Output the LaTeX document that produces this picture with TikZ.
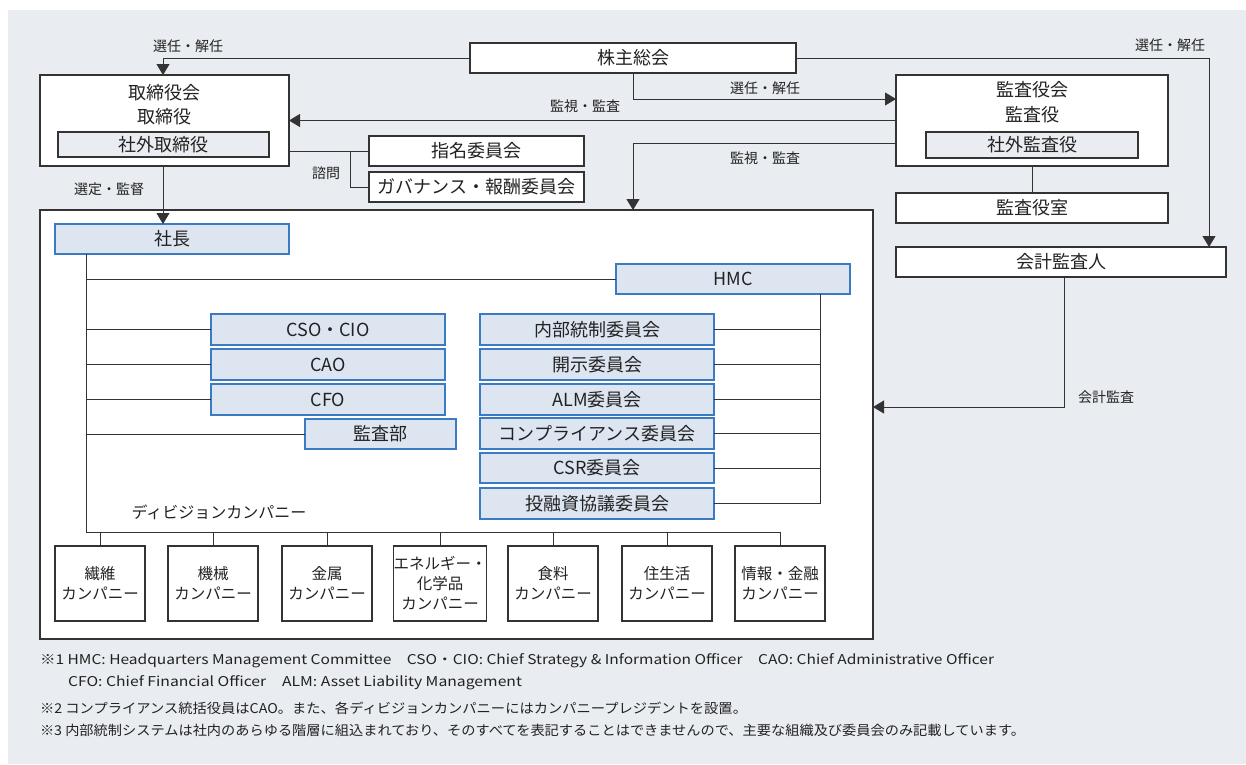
\documentclass[tikz,border=0pt]{standalone}
\usepackage{fontspec}
\usepackage{graphicx}
\setmainfont{Noto Sans CJK JP}
\usetikzlibrary{arrows.meta}
\definecolor{bgc}{HTML}{E9ECF0}
\definecolor{bluefill}{HTML}{DDE5F1}
\definecolor{blueline}{HTML}{3B7BC4}
\definecolor{ln}{HTML}{333333}
\definecolor{txt}{HTML}{222222}
\tikzset{
  base/.style={inner sep=0pt, outer sep=0pt, text=txt, align=center},
  wbox/.style={base, draw=ln, line width=1.1pt, fill=white, font=\fontsize{18}{20}\selectfont},
  bbox/.style={base, draw=blueline, line width=1.3pt, fill=bluefill, font=\fontsize{18}{20}\selectfont, minimum width=234pt},
  gbox/.style={base, draw=ln, line width=1.1pt, fill=bgc, font=\fontsize{18}{20}\selectfont},
  cbox/.style={base, draw=ln, line width=1.1pt, fill=white, minimum width=90pt, minimum height=75pt, font=\fontsize{15.5}{20}\selectfont},
  plain/.style={base, font=\fontsize{18}{20}\selectfont},
  lbl/.style={base, font=\fontsize{14}{16}\selectfont},
  foot/.style={base, anchor=west, font=\fontsize{13.5}{15}\selectfont},
  conn/.style={draw=ln, line width=1pt},
  arr/.style={conn, -{Triangle[width=13pt,length=11pt]}},
}
\begin{document}
\begin{tikzpicture}[x=1pt,y=-1pt]
\useasboundingbox (0,0) rectangle (1246,764);
\fill[bgc] (8,10) rectangle (1246,764);

% main frame
\node[base, draw=ln, line width=1.1pt, fill=white, minimum width=833pt, minimum height=429pt] (frame) at (456.5,424.5) {};

% top boxes
\node[wbox, minimum width=326pt, minimum height=30pt] (gsm) at (633,58) {株主総会};
\node[wbox, minimum width=249pt, minimum height=91pt] (board) at (164.5,120.5) {};
\node[plain] (boardt1) at (164,93) {取締役会};
\node[plain] (boardt2) at (164,117) {取締役};
\node[gbox, minimum width=211pt, minimum height=25pt] (outdir) at (163.5,144.5) {社外取締役};
\node[wbox, minimum width=215pt, minimum height=30pt] (nom) at (476.5,151) {指名委員会};
\node[wbox, minimum width=215pt, minimum height=30pt] (gov) at (476.5,187) {ガバナンス・報酬委員会};

\node[wbox, minimum width=272pt, minimum height=91pt] (aud) at (1032,120.5) {};
\node[plain] (audt1) at (1032,90) {監査役会};
\node[plain] (audt2) at (1032,115) {監査役};
\node[gbox, minimum width=212pt, minimum height=26pt] (outaud) at (1032,145) {社外監査役};
\node[wbox, minimum width=272pt, minimum height=30pt] (audoff) at (1032,208) {監査役室};
\node[wbox, minimum width=330pt, minimum height=30pt] (acct) at (1061,262) {会計監査人};

% inner boxes
\node[bbox, minimum height=30pt] (pres) at (172,239) {社長};
\node[bbox, minimum height=30pt] (hmc) at (733,279) {HMC};
\node[bbox, minimum height=31pt] (cso) at (328,329.5) {CSO・CIO};
\node[bbox, minimum height=31pt] (cao) at (328,364.5) {CAO};
\node[bbox, minimum height=31pt] (cfo) at (328,399.5) {CFO};
\node[bbox, minimum width=151pt, minimum height=30pt] (kansa) at (380.5,434) {監査部};

\node[bbox, minimum height=31pt] (r1) at (597,329.5) {内部統制委員会};
\node[bbox, minimum height=31pt] (r2) at (597,364.5) {開示委員会};
\node[bbox, minimum height=31pt] (r3) at (597,399.5) {ALM委員会};
\node[bbox, minimum height=31pt] (r4) at (597,433.5) {コンプライアンス委員会};
\node[bbox, minimum height=30pt] (r5) at (597,468) {CSR委員会};
\node[bbox, minimum height=31pt] (r6) at (597,503.5) {投融資協議委員会};

\node[base, font=\fontsize{16}{18}\selectfont] (divlbl) at (219,512) {ディビジョンカンパニー};

\node[cbox] (c1) at (100,583.5) {繊維\\カンパニー};
\node[cbox] (c2) at (213,583.5) {機械\\カンパニー};
\node[cbox] (c3) at (327,583.5) {金属\\カンパニー};
\node[cbox] (c4) at (440,583.5) {エネルギー・\\化学品\\カンパニー};
\node[cbox] (c5) at (553,583.5) {食料\\カンパニー};
\node[cbox] (c6) at (667,583.5) {住生活\\カンパニー};
\node[cbox] (c7) at (780,583.5) {情報・金融\\カンパニー};

% connectors top
\draw[arr] (gsm.west) -| (163,0 |- board.north);
\node[lbl] (l1) at (188,46) {選任・解任};
\draw[arr] (gsm.east) -| (1209,0 |- acct.north);
\node[lbl] (l2) at (1170,45) {選任・解任};
\draw[arr] (gsm.south) |- (aud.west |- 0,99);
\node[lbl] (l3) at (765,88) {選任・解任};
\draw[arr] (aud.west) -- (board.east);
\node[lbl] (l4) at (585,106) {監視・監査};
\draw[arr] (aud.west |- 0,143) -| (frame.north -| gsm.south);
\node[lbl] (l5) at (765,158) {監視・監査};
\draw[conn] (aud.south) -- (audoff.north);
\draw[arr] (1064,0 |- acct.south) |- (frame.east |- 0,407);
\node[lbl] (l6) at (1106,397) {会計監査};
\draw[arr] (163,0 |- board.south) -- (163,0 |- pres.north);
\node[lbl] (l7) at (109,189) {選定・監督};
\draw[conn] (board.east |- nom.west) -- (nom.west);
\draw[conn] (350,0 |- nom.west) |- (gov.west);
\node[lbl] (l8) at (326,173) {諮問};

% spine
\draw[conn] (86,0 |- pres.south) -- (86,532) -- (780,532);
\draw[conn] (86,0 |- hmc.west) -- (hmc.west);
\draw[conn] (86,0 |- cso.west) -- (cso.west);
\draw[conn] (86,0 |- cao.west) -- (cao.west);
\draw[conn] (86,0 |- cfo.west) -- (cfo.west);
\draw[conn] (86,0 |- kansa.west) -- (kansa.west);

% HMC committees
\draw[conn] (820,0 |- hmc.south) -- (820,0 |- r6.east) -- (r6.east);
\draw[conn] (r1.east) -- (820,0 |- r1.east);
\draw[conn] (r2.east) -- (820,0 |- r2.east);
\draw[conn] (r3.east) -- (820,0 |- r3.east);
\draw[conn] (r4.east) -- (820,0 |- r4.east);
\draw[conn] (r5.east) -- (820,0 |- r5.east);

% companies
\foreach \c in {c1,c2,c3,c4,c5,c6,c7}{
  \draw[conn] (\c.north |- 0,532) -- (\c.north);
}

% footnotes
\node[foot] (f1) at (40,661) {\resizebox{954pt}{\height}{※1 HMC: Headquarters Management Committee\quad CSO・CIO: Chief Strategy \& Information Officer\quad CAO: Chief Administrative Officer}};
\node[foot] (f2) at (68,683) {\resizebox{454pt}{\height}{CFO: Chief Financial Officer\quad ALM: Asset Liability Management}};
\node[foot] (f3) at (40,708) {\resizebox{707pt}{\height}{※2 コンプライアンス統括役員はCAO。また、各ディビジョンカンパニーにはカンパニープレジデントを設置。}};
\node[foot] (f4) at (40,730) {\resizebox{985pt}{\height}{※3 内部統制システムは社内のあらゆる階層に組込まれており、そのすべてを表記することはできませんので、主要な組織及び委員会のみ記載しています。}};
\end{tikzpicture}
\end{document}
